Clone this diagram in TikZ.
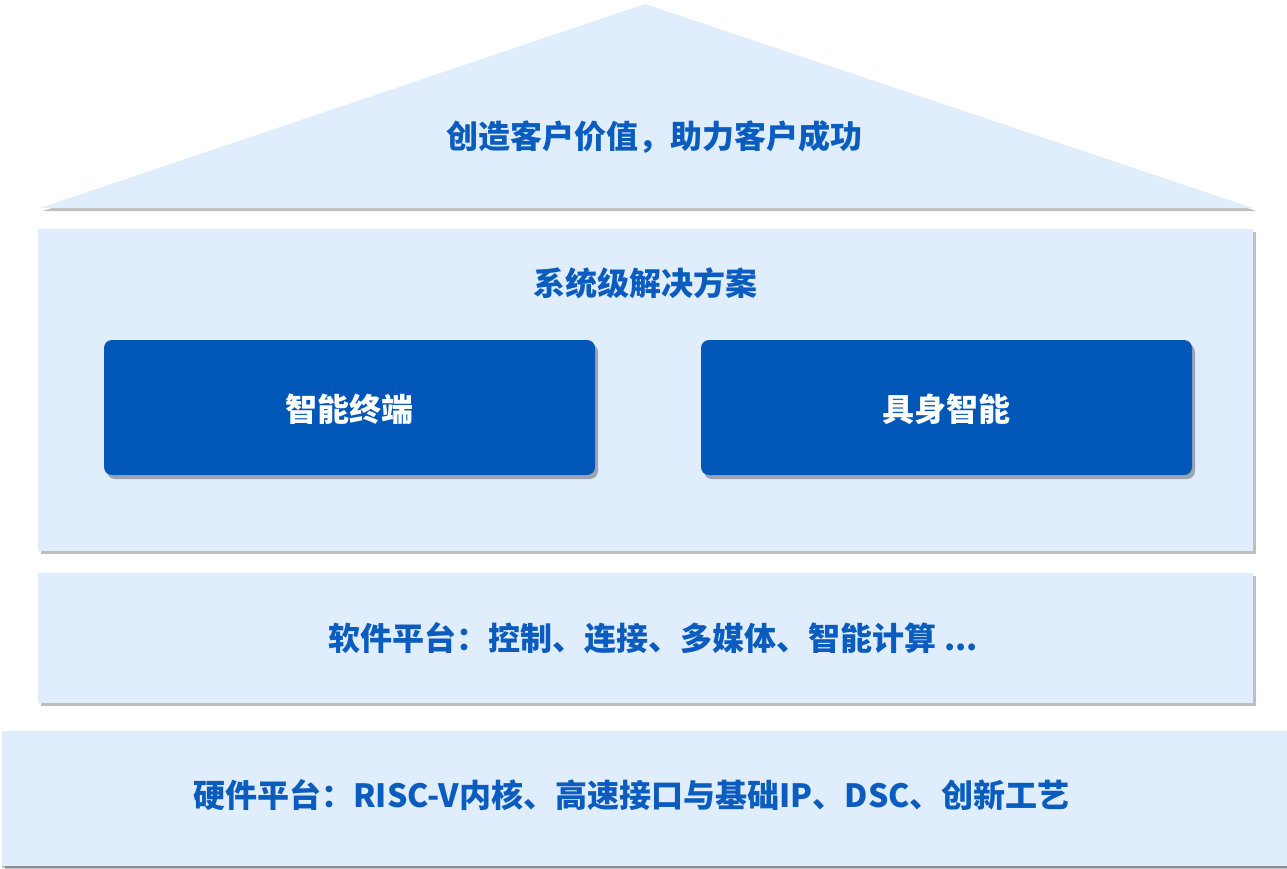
\documentclass[tikz,border=0pt]{standalone}
\usepackage{fontspec}
\newfontfamily\cjk{Noto Sans CJK SC}
\usetikzlibrary{shadows}
\definecolor{lightfill}{HTML}{E0EDFC}
\definecolor{boxblue}{HTML}{0057B8}
\definecolor{txtblue}{HTML}{0B5CBF}
\tikzset{
  x=1pt, y=-1pt,
  softshadow/.style={drop shadow={shadow xshift=3pt, shadow yshift=-3pt, fill=black, opacity=0.25}},
  layer/.style={fill=lightfill, draw=none, softshadow},
  tile/.style={fill=boxblue, draw=none, rounded corners=8pt, drop shadow={shadow xshift=3pt, shadow yshift=-4pt, fill=black, opacity=0.3}},
  headtxt/.style={font=\cjk\bfseries\fontsize{32}{37}\selectfont, text=txtblue, inner sep=0pt},
  tiletxt/.style={font=\cjk\bfseries\fontsize{32}{37}\selectfont, text=white, inner sep=0pt},
}
\begin{document}
\begin{tikzpicture}
\useasboundingbox (0,0) rectangle (1287,868);
% roof
\fill[layer] (40,208) -- (645,4) -- (1253,208) -- cycle;
\node[headtxt] (roof) at (654,137) {创造客户价值，助力客户成功};
% solutions layer
\fill[layer] (38,229) rectangle (1253,551);
\node[headtxt] (sol) at (645,283) {系统级解决方案};
\node[tile, minimum width=491pt, minimum height=135pt, inner sep=0pt] (t1) at (349.5,407.5) {};
\node[tiletxt] (t1txt) at (349,409) {智能终端};
\node[tile, minimum width=491pt, minimum height=135pt, inner sep=0pt] (t2) at (946.5,407.5) {};
\node[tiletxt] (t2txt) at (946,409) {具身智能};
% software layer
\fill[layer] (38,573) rectangle (1253,703);
\node[headtxt] (sw) at (653.5,638) {软件平台：控制、连接、多媒体、智能计算 ...};
% hardware layer
\fill[layer] (2,731) rectangle (1287,866);
\fill[black, opacity=0.25] (2,866) rectangle (1287,868);
\node[headtxt] (hw) at (631.5,795) {硬件平台：RISC-V内核、高速接口与基础IP、DSC、创新工艺};
\end{tikzpicture}
\end{document}
